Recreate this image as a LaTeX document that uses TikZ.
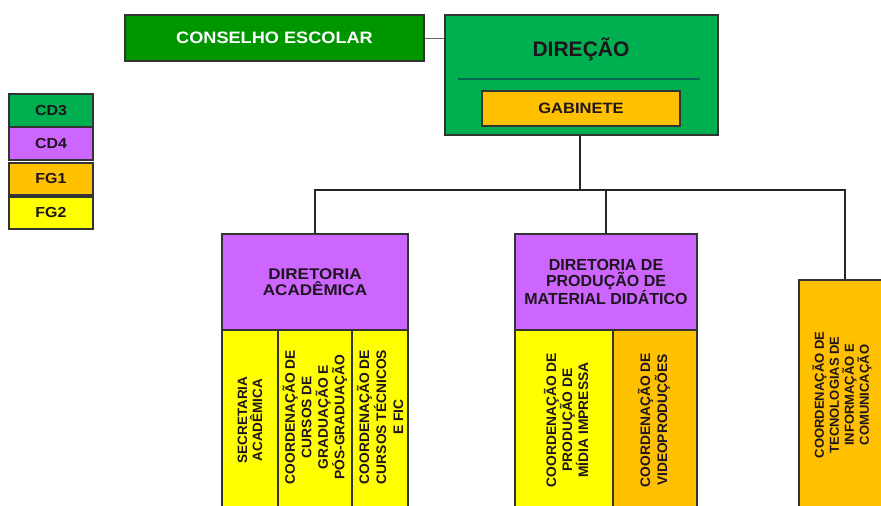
\documentclass[tikz,border=0pt]{standalone}
\usepackage{fontspec}
\setmainfont{Liberation Sans}
\newfontfamily\widesans[FakeStretch=1.1]{Liberation Sans}
\definecolor{cdgreen}{RGB}{0,176,80}
\definecolor{csgreen}{RGB}{0,150,0}
\definecolor{cdpurple}{RGB}{204,102,255}
\definecolor{fgorange}{RGB}{255,192,0}
\definecolor{fgyellow}{RGB}{255,255,0}
\definecolor{sepline}{RGB}{0,105,85}
\definecolor{txt}{RGB}{30,20,30}
\begin{document}
\begin{tikzpicture}[x=1pt,y=-1pt,
  box/.style={draw=black!80,line width=1.2pt,inner sep=0pt,text=txt,font=\bfseries},
  legend/.style={box,minimum width=84,font=\widesans\fontsize{14.5}{16}\selectfont\bfseries},
  vtext/.style={rotate=90,align=center,inner sep=0pt,text=txt,font=\fontsize{13.5}{15}\selectfont\bfseries},
  conn/.style={draw=black!85,line width=1.6pt}]
\useasboundingbox (0,0) rectangle (881,506);
\clip (0,0) rectangle (881,506);
% legend
\node[legend,fill=cdgreen,minimum height=33] (cd3) at (51,110.5) {CD3};
\node[legend,fill=cdpurple,minimum height=33] (cd4) at (51,143.5) {CD4};
\node[legend,fill=fgorange,minimum height=32] (fg1) at (51,179) {FG1};
\node[legend,fill=fgyellow,minimum height=32] (fg2) at (51,213) {FG2};
% top
\node[box,fill=csgreen,minimum width=299,minimum height=46,text=white,font=\widesans\fontsize{16.5}{18}\selectfont\bfseries] (conselho) at (274.5,38) {CONSELHO ESCOLAR};
\node[box,fill=cdgreen,minimum width=273,minimum height=120] (direcao) at (581.5,75) {};
\node[inner sep=0pt,text=txt,font=\fontsize{21}{23}\selectfont\bfseries] (dirtxt) at (581,49) {DIREÇÃO};
\draw[sepline,line width=1.5pt] (458,79) coordinate (sepA) -- (700,79) coordinate (sepB);
\node[box,fill=fgorange,minimum width=198,minimum height=35,font=\widesans\fontsize{15}{17}\selectfont\bfseries] (gabinete) at (581,108.5) {GABINETE};
% second level
\node[box,fill=cdpurple,minimum width=186,minimum height=96,align=center,font=\widesans\fontsize{15.5}{15.5}\selectfont\bfseries] (dirac) at (315,282) {DIRETORIA\\ACADÊMICA};
\node[box,fill=cdpurple,minimum width=182,minimum height=96,align=center,font=\fontsize{16}{16}\selectfont\bfseries] (dirprod) at (606,282) {DIRETORIA DE\\PRODUÇÃO DE\\MATERIAL DIDÁTICO};
\node[box,fill=fgorange,minimum width=92,minimum height=240] (coordti) at (845,400) {};
% third level boxes
\node[box,fill=fgyellow,minimum width=56,minimum height=190] (secac) at (250,425) {};
\node[box,fill=fgyellow,minimum width=74,minimum height=190] (grad) at (315,425) {};
\node[box,fill=fgyellow,minimum width=56,minimum height=190] (tec) at (380,425) {};
\node[box,fill=fgyellow,minimum width=98,minimum height=190] (midia) at (564,425) {};
\node[box,fill=fgorange,minimum width=84,minimum height=190] (video) at (655,425) {};
% vertical texts
\node[vtext] (secactxt) at (250,420) {SECRETARIA\\ACADÊMICA};
\node[vtext,font=\fontsize{13.8}{16.5}\selectfont\bfseries] (gradtxt) at (315,417) {COORDENAÇÃO DE\\CURSOS DE\\GRADUAÇÃO E\\PÓS-GRADUAÇÃO};
\node[vtext,font=\fontsize{13.8}{17}\selectfont\bfseries] (tectxt) at (380,417) {COORDENAÇÃO DE\\CURSOS TÉCNICOS\\E FIC};
\node[vtext,font=\fontsize{13.8}{16}\selectfont\bfseries] (midiatxt) at (566,420) {COORDENAÇÃO DE\\PRODUÇÃO DE\\MÍDIA IMPRESSA};
\node[vtext,font=\fontsize{13.8}{17}\selectfont\bfseries] (videotxt) at (654,420) {COORDENAÇÃO DE\\VIDEOPRODUÇÕES};
\node[vtext,font=\fontsize{13}{15}\selectfont\bfseries] (titxt) at (842,395) {COORDENAÇÃO DE\\TECNOLOGIAS DE\\INFORMAÇÃO E\\COMUNICAÇÃO};
% connectors
\draw[conn,line width=1pt,draw=black!60] (conselho.east) -- (direcao.west |- conselho.east);
\coordinate (bus) at (580,190);
\draw[conn] (direcao.south -| bus) -- (bus);
\draw[conn] (dirac.north) |- (bus) -| (coordti.north);
\draw[conn] (dirprod.north) -- (dirprod.north |- bus);
\end{tikzpicture}
\end{document}
